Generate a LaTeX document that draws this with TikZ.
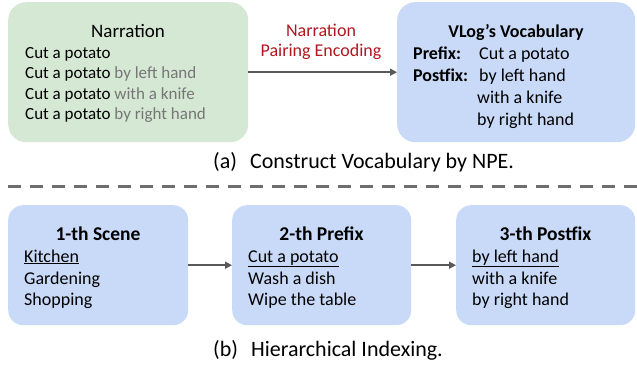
\documentclass[tikz,border=0pt]{standalone}
\usepackage{fontspec}
\setmainfont{Carlito}
\usetikzlibrary{arrows.meta,positioning}
\definecolor{boxgreen}{RGB}{213,232,212}
\definecolor{boxblue}{RGB}{201,218,248}
\definecolor{npered}{RGB}{176,24,32}
\definecolor{arrgray}{RGB}{89,89,89}
\definecolor{softgray}{RGB}{118,118,118}
\definecolor{sepgray}{RGB}{110,110,110}
\tikzset{
	box/.style={rounded corners=15pt, inner sep=0pt, anchor=north west},
	txt/.style={anchor=base west, inner sep=0pt, font=\fontsize{17}{20}\selectfont},
	bigtxt/.style={txt, font=\fontsize{18}{21}\selectfont},
	ttl/.style={anchor=base, inner sep=0pt, font=\fontsize{18}{21}\selectfont},
	bigttl/.style={ttl, font=\fontsize{19.5}{23}\selectfont\bfseries},
	captext/.style={anchor=base west, inner sep=0pt, font=\fontsize{22}{26}\selectfont},
	link/.style={draw=arrgray, line width=2pt, -{Triangle[length=7pt,width=7pt]}},
}
\begin{document}
\begin{tikzpicture}[x=1pt,y=-1pt]
			%%%%% START %%%%%
			\def\xn{25}
			\def\xv{413}
			\def\xs{24}
			\def\xp{248}
			\def\xq{472}
			\useasboundingbox (0,0) rectangle (637,364);
			
			\node[box, rounded corners=18pt, fill=boxgreen, minimum width=240pt, minimum height=140pt] (narr) at (8,2) {};
			\node[box, rounded corners=18pt, fill=boxblue, minimum width=238pt, minimum height=140pt] (vocab) at (397,2) {};
			
			\node[ttl, font=\fontsize{19}{22}\selectfont] (narrT) at (128,37) {Narration};
			\node[txt] (narr1) at (\xn,58) {Cut a potato};
			\node[txt] (narr2) at (\xn,78) {Cut a potato \textcolor{softgray}{by left hand}};
			\node[txt] (narr3) at (\xn,99) {Cut a potato \textcolor{softgray}{with a knife}};
			\node[txt] (narr4) at (\xn,119) {Cut a potato \textcolor{softgray}{by right hand}};
			
			\draw[link, line width=2.5pt] (narr.east) -- (vocab.west);
			\node[ttl, text=npered] (npeA) at (321,36) {Narration};
			\node[ttl, text=npered] (npeB) at (321,56) {Pairing Encoding};
			
			\node[ttl] (vocabT) at (516,37) {\textbf{VLog’s Vocabulary}};
			\node[bigtxt] (pre) at (\xv,59) {\textbf{Prefix:}};
			\node[bigtxt] (preV) at (479,59) {Cut a potato};
			\node[bigtxt] (post) at (\xv,81) {\textbf{Postfix:}};
			\node[bigtxt] (post1) at (479,81) {by left hand};
			\node[bigtxt] (post2) at (477,103) {with a knife};
			\node[bigtxt] (post3) at (477,125) {by right hand};
			
			\node[captext] (capA) at (213,168.5) {(a)\hspace{13pt}Construct Vocabulary by NPE.};
			
			\coordinate (sepL) at (8,186);
			\coordinate (sepR) at (637,186);
			\draw[sepgray, line width=3pt, dash pattern=on 13pt off 9pt] (sepL) -- (sepR);
			
			\node[box, fill=boxblue, minimum width=180pt, minimum height=120pt] (scene) at (8,205) {};
			\node[box, fill=boxblue, minimum width=179pt, minimum height=120pt] (prefix) at (232,205) {};
			\node[box, fill=boxblue, minimum width=179pt, minimum height=120pt] (postfix) at (456,205) {};
			
			\node[bigttl] (sceneT) at (98,240) {1-th Scene};
			\node[bigtxt] (scene1) at (\xs,262) {\underline{Kitchen}};
			\node[bigtxt] (scene2) at (\xs,284) {Gardening};
			\node[bigtxt] (scene3) at (\xs,305) {Shopping};
			
			\node[bigttl] (prefixT) at (321.5,240) {2-th Prefix};
			\node[bigtxt] (prefix1) at (\xp,262) {\underline{Cut a potato}};
			\node[bigtxt] (prefix2) at (\xp,284) {Wash a dish};
			\node[bigtxt] (prefix3) at (\xp,305) {Wipe the table};
			
			\node[bigttl] (postfixT) at (545.5,240) {3-th Postfix};
			\node[bigtxt] (postfix1) at (\xq,262) {\underline{by left hand}};
			\node[bigtxt] (postfix2) at (\xq,284) {with a knife};
			\node[bigtxt] (postfix3) at (\xq,305) {by right hand};
			
			\draw[link] (scene.east) -- (prefix.west);
			\draw[link] (prefix.east) -- (postfix.west);
			
			\node[captext] (capB) at (213,356.5) {(b)\hspace{13pt}Hierarchical Indexing.};
			%%%%% END %%%%%
\end{tikzpicture}
\end{document}
